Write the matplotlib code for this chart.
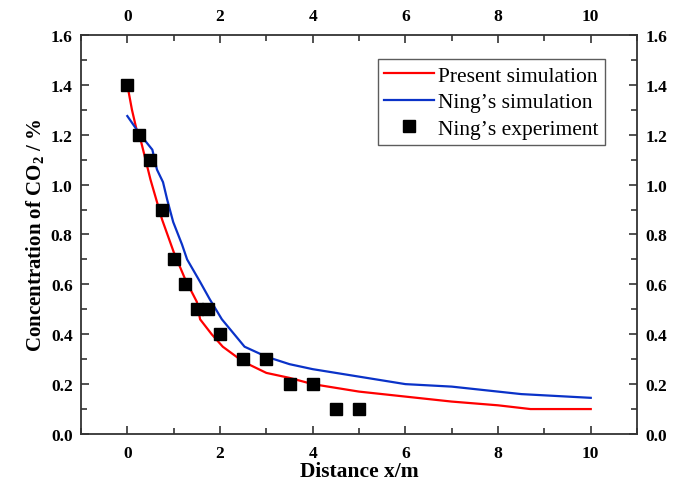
import matplotlib
matplotlib.use("Agg")
import matplotlib.pyplot as plt
from matplotlib.ticker import MultipleLocator

plt.rcParams['font.family'] = ['Liberation Serif', 'DejaVu Serif']
plt.rcParams['mathtext.fontset'] = 'custom'
plt.rcParams['mathtext.rm'] = 'Liberation Serif:bold'
plt.rcParams['mathtext.bf'] = 'Liberation Serif:bold'

# present simulation
x_present = [0.0, 0.1, 0.2, 0.3, 0.5, 0.75, 1.0, 1.25, 1.5, 1.57, 1.82, 2.06, 2.5,
             3.0, 3.5, 4.0, 5.0, 6.0, 7.0, 8.0, 8.7, 10.0]
y_present = [1.40, 1.30, 1.22, 1.17, 1.02, 0.86, 0.73, 0.62, 0.53, 0.46, 0.40, 0.35,
             0.29, 0.245, 0.225, 0.20, 0.17, 0.15, 0.13, 0.115, 0.10, 0.10]

# Ning's simulation
x_ning = [0.0, 0.28, 0.54, 0.64, 0.77, 0.86, 0.99, 1.18, 1.29, 1.57, 1.78, 2.04,
          2.53, 3.0, 3.5, 4.0, 5.0, 6.0, 7.0, 8.0, 8.5, 10.0]
y_ning = [1.275, 1.20, 1.14, 1.06, 1.01, 0.94, 0.85, 0.76, 0.70, 0.61, 0.54, 0.46,
          0.35, 0.31, 0.28, 0.26, 0.23, 0.20, 0.19, 0.17, 0.16, 0.145]

# Ning's experiment
x_exp = [0.0, 0.25, 0.5, 0.75, 1.0, 1.25, 1.5, 1.75, 2.0, 2.5, 3.0, 3.5, 4.0, 4.5, 5.0]
y_exp = [1.4, 1.2, 1.1, 0.9, 0.7, 0.6, 0.5, 0.5, 0.4, 0.3, 0.3, 0.2, 0.2, 0.1, 0.1]

fig = plt.figure(figsize=(6.88, 4.85), dpi=100)
ax = fig.add_axes([0.1177, 0.1031, 0.8083, 0.8227])

ax.plot(x_present, y_present, color='#ff0000', lw=1.6, label='Present simulation')
ax.plot(x_ning, y_ning, color='#0a32c8', lw=1.6, label="Ning\u02bcs simulation")
ax.plot(x_exp, y_exp, 's', color='black', ms=8, ls='none', label="Ning\u02bcs experiment")

ax.set_xlim(-1, 11)
ax.set_ylim(0, 1.6)
ax.xaxis.set_major_locator(MultipleLocator(2))
ax.xaxis.set_minor_locator(MultipleLocator(1))
ax.yaxis.set_major_locator(MultipleLocator(0.2))
ax.yaxis.set_minor_locator(MultipleLocator(0.1))
ax.tick_params(which='both', direction='in', top=True, right=True,
               labeltop=True, labelright=True, labelsize=12.5, width=1.2,
               colors='#333333', labelcolor='black', pad=6)
ax.tick_params(which='major', length=6)
ax.tick_params(which='minor', length=4)
ax.tick_params(axis='x', which='major', pad=8)
for lab in ax.get_xticklabels() + ax.get_yticklabels():
    lab.set_fontweight('bold')
ax.xaxis.set_ticklabels(['', '0', '2', '4', '6', '8', '10'])
for spine in ax.spines.values():
    spine.set_linewidth(1.3)
    spine.set_color('#333333')

ax.set_xlabel('Distance x/m', fontsize=15.5, fontweight='bold', labelpad=0)
ax.set_ylabel(r'Concentration of CO$_2$ / %', fontsize=15, fontweight='bold', labelpad=3)

leg = ax.legend(loc='upper right', fontsize=15.5, frameon=True, fancybox=False,
                edgecolor='#333333', handlelength=2.3, handletextpad=0.2,
                bbox_to_anchor=(0.8794, 0.8763), bbox_transform=fig.transFigure,
                borderaxespad=0, labelspacing=0.3, borderpad=0.3)
leg.get_frame().set_linewidth(1.0)

fig.savefig('out.png', dpi=100)
